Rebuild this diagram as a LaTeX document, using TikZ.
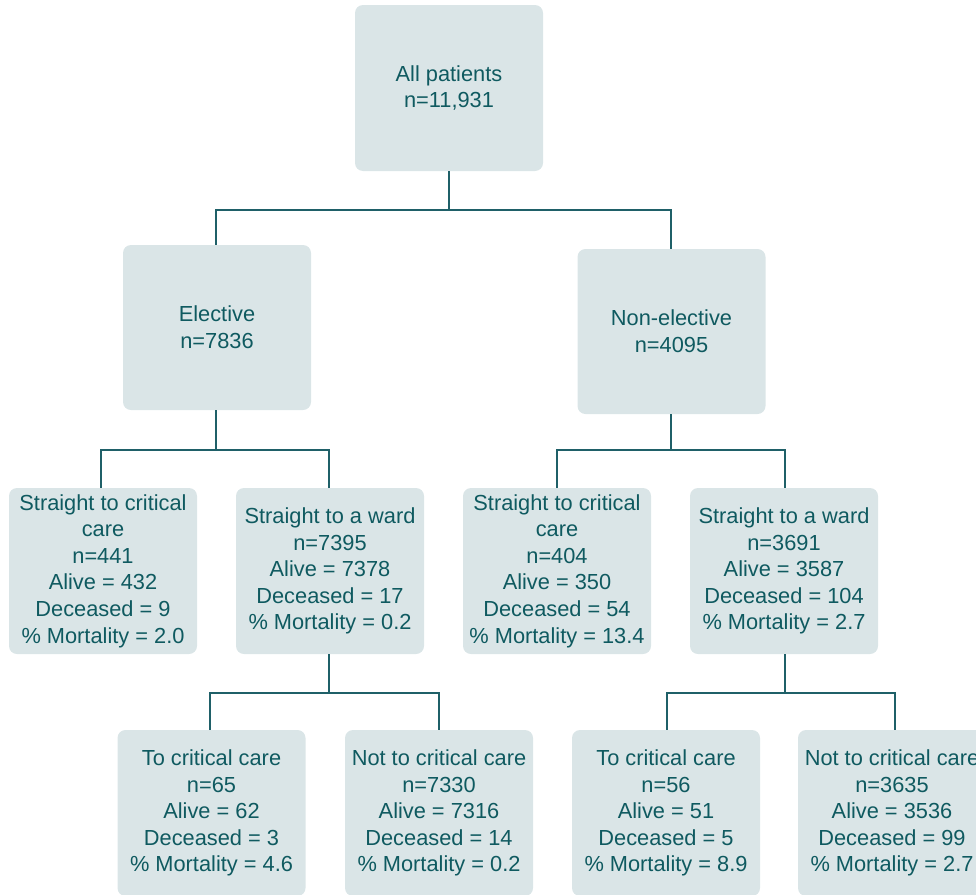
\documentclass[tikz,border=0pt]{standalone}
\usepackage{fontspec}
\setmainfont{Liberation Sans}
\definecolor{boxfill}{HTML}{DAE5E7}
\definecolor{boxtext}{HTML}{0F5A60}
\definecolor{linecol}{HTML}{1F6068}
\tikzset{
  box/.style={rectangle, rounded corners=8pt, fill=boxfill, text=boxtext,
    minimum width=188pt, minimum height=166pt, inner sep=0pt, align=center,
    font=\fontsize{21.8}{26.6}\selectfont},
  conn/.style={draw=linecol, line width=1.4pt}
}
\begin{document}
\begin{tikzpicture}[x=1pt,y=-1pt]
\useasboundingbox (0,0) rectangle (976,894);
\clip (0,0) rectangle (976,894);
\node[box] (root) at (449,88) {All patients\\n=11,931};
\node[box, minimum height=165pt] (el) at (217,327.5) {Elective\\n=7836};
\node[box, minimum height=165pt] (ne) at (671.5,331.5) {Non-elective\\n=4095};
\node[box] (a) at (103,571) {Straight to critical\\care\\n=441\\Alive = 432\\Deceased = 9\\\% Mortality = 2.0};
\node[box] (b) at (330,571) {Straight to a ward\\n=7395\\Alive = 7378\\Deceased = 17\\\% Mortality = 0.2};
\node[box] (c) at (557,571) {Straight to critical\\care\\n=404\\Alive = 350\\Deceased = 54\\\% Mortality = 13.4};
\node[box] (d) at (784,571) {Straight to a ward\\n=3691\\Alive = 3587\\Deceased = 104\\\% Mortality = 2.7};
\node[box] (e) at (211.5,813) {To critical care\\n=65\\Alive = 62\\Deceased = 3\\\% Mortality = 4.6};
\node[box] (f) at (439,813) {Not to critical care\\n=7330\\Alive = 7316\\Deceased = 14\\\% Mortality = 0.2};
\node[box] (g) at (666,813) {To critical care\\n=56\\Alive = 51\\Deceased = 5\\\% Mortality = 8.9};
\node[box] (h) at (892,813) {Not to critical care\\n=3635\\Alive = 3536\\Deceased = 99\\\% Mortality = 2.7};
\coordinate (j1) at (449,210);
\coordinate (j2) at (216,450);
\coordinate (j3) at (671,450);
\coordinate (j4) at (329,693);
\coordinate (j5) at (785,693);
\draw[conn] (root.south) -- (j1);
\draw[conn] (j1) -| ([xshift=-1pt]el.north);
\draw[conn] (j1) -| ([xshift=-0.5pt]ne.north);
\draw[conn] ([xshift=-1pt]el.south) -- (j2);
\draw[conn] (j2) -| ([xshift=-2pt]a.north);
\draw[conn] (j2) -| ([xshift=-1pt]b.north);
\draw[conn] ([xshift=-0.5pt]ne.south) -- (j3);
\draw[conn] (j3) -| (c.north);
\draw[conn] (j3) -| ([xshift=1pt]d.north);
\draw[conn] ([xshift=-1pt]b.south) -- (j4);
\draw[conn] (j4) -| ([xshift=-1.5pt]e.north);
\draw[conn] (j4) -| (f.north);
\draw[conn] ([xshift=1pt]d.south) -- (j5);
\draw[conn] (j5) -| ([xshift=1pt]g.north);
\draw[conn] (j5) -| ([xshift=3pt]h.north);
\end{tikzpicture}
\end{document}
